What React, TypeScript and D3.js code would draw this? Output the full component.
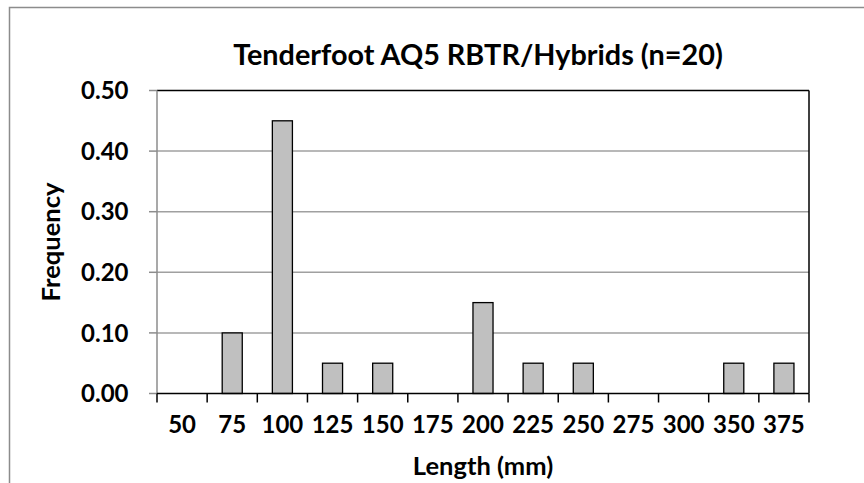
import React from "react";
import * as d3 from "d3";

const categories = ["50", "75", "100", "125", "150", "175", "200", "225", "250", "275", "300", "350", "375"];
const frequency = [0, 0.1, 0.45, 0.05, 0.05, 0, 0.15, 0.05, 0.05, 0, 0, 0.05, 0.05];
const yTicks = [0, 0.1, 0.2, 0.3, 0.4, 0.5];
const title = "Tenderfoot AQ5 RBTR/Hybrids (n=20)";
const xTitle = "Length (mm)";
const yTitle = "Frequency";

const W = 864;
const H = 483;
const left = 157;
const right = 809;
const top = 90.5;
const bottom = 393.5;
const font = "Lato, 'Open Sans', sans-serif";

export default function App() {
  const x = d3.scaleBand<string>().domain(categories).range([left, right]).paddingInner(0.6).paddingOuter(0.3);
  const band = d3.scaleBand<string>().domain(categories).range([left, right]);
  const y = d3.scaleLinear().domain([0, 0.5]).range([bottom, top]);
  const step = band.step();
  const boundaries = d3.range(categories.length + 1).map((i) => left + i * step);

  return (
    <svg width={W} height={H} style={{ position: "absolute", left: 0, top: 0, background: "#fff" }}>
      <rect x={9.5} y={7.5} width={1000} height={1000} fill="#fff" stroke="#8c8c8c" strokeWidth={1.5} />
      <text x={478} y={65} textAnchor="middle" fontFamily={font} fontWeight={700} fontSize={28.8} fill="#000">
        {title}
      </text>
      {yTicks.slice(1, -1).map((t) => (
        <line key={t} x1={left} x2={right} y1={y(t)} y2={y(t)} stroke="#a0a0a0" strokeWidth={1.5} />
      ))}
      <line x1={left} x2={right} y1={top} y2={top} stroke="#000" strokeWidth={1.5} />
      <line x1={right} x2={right} y1={top} y2={bottom} stroke="#000" strokeWidth={1.5} />
      {categories.map((c, i) => (
        <rect
          key={c}
          x={x(c)}
          y={y(frequency[i])}
          width={x.bandwidth()}
          height={bottom - y(frequency[i])}
          fill={frequency[i] > 0 ? "#c0c0c0" : "none"}
          stroke={frequency[i] > 0 ? "#000" : "none"}
          strokeWidth={1.3}
        />
      ))}
      <line x1={left} x2={left} y1={top} y2={bottom} stroke="#8c8c8c" strokeWidth={1.5} />
      {yTicks.map((t) => (
        <g key={t}>
          <line x1={left - 8} x2={left} y1={y(t)} y2={y(t)} stroke="#8c8c8c" strokeWidth={1.5} />
          <text x={128.5} y={y(t)} dy="0.36em" textAnchor="end" fontFamily={font} fontWeight={700} fontSize={24} fill="#000">
            {t.toFixed(2)}
          </text>
        </g>
      ))}
      <line x1={left} x2={right} y1={bottom} y2={bottom} stroke="#000" strokeWidth={1.5} />
      {boundaries.map((b, i) => (
        <line key={i} x1={b} x2={b} y1={bottom} y2={bottom + 9} stroke="#000" strokeWidth={1.5} />
      ))}
      {categories.map((c) => (
        <text key={c} x={band(c)! + step / 2} y={433} textAnchor="middle" fontFamily={font} fontWeight={700} fontSize={24} fill="#000">
          {c}
        </text>
      ))}
      <text x={483} y={475} textAnchor="middle" fontFamily={font} fontWeight={700} fontSize={25.5} fill="#000">
        {xTitle}
      </text>
      <text
        transform={`translate(59.5, ${(top + bottom) / 2}) rotate(-90)`}
        textAnchor="middle"
        fontFamily={font}
        fontWeight={700}
        fontSize={25.5}
        fill="#000"
      >
        {yTitle}
      </text>
    </svg>
  );
}
